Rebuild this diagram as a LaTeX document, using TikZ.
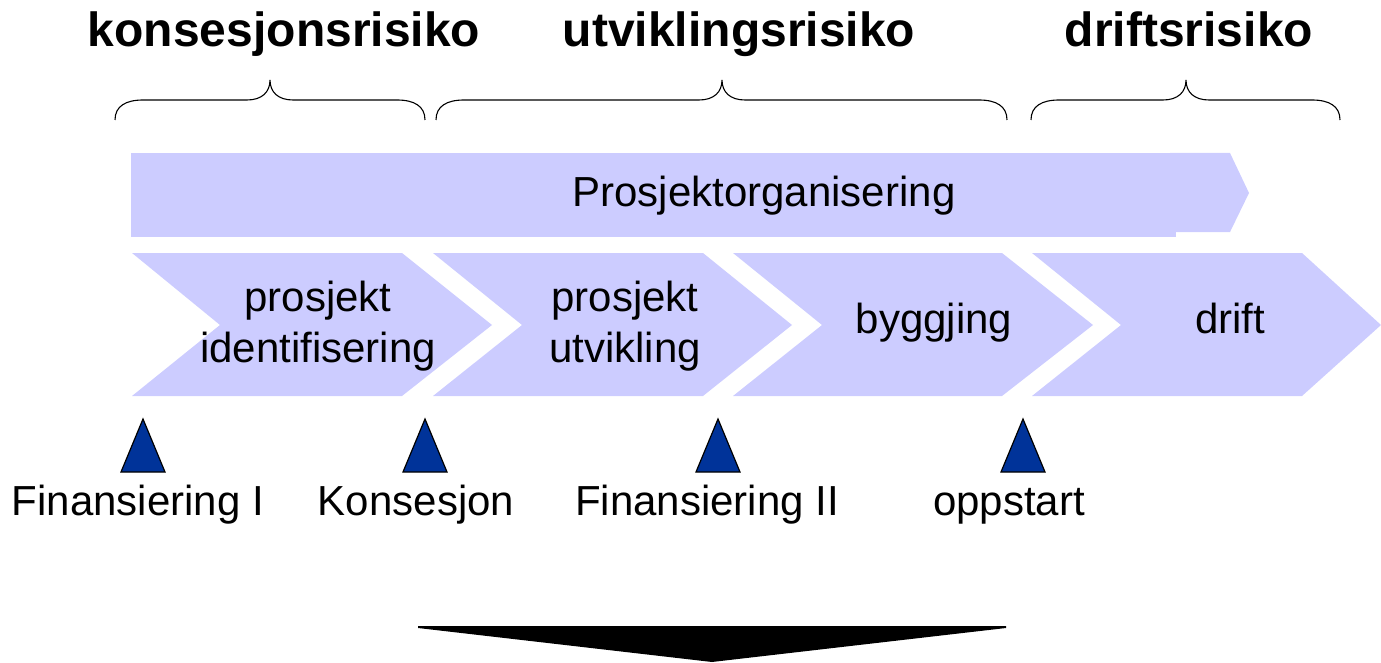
\documentclass[tikz,border=0pt]{standalone}
\usepackage{fontspec}
\setmainfont{Liberation Sans}
\definecolor{chevfill}{HTML}{CCCCFF}
\definecolor{trifill}{HTML}{003399}
\begin{document}
\begin{tikzpicture}[x=1pt,y=-1pt,
  lbl/.style={font=\fontsize{42}{51}\selectfont, inner sep=0pt, anchor=base, align=center},
  ttl/.style={font=\fontsize{48}{56}\selectfont\bfseries, inner sep=0pt, anchor=base},
  chev/.style={fill=chevfill, draw=none},
  bracket/.style={draw=black, line width=1.1pt},
  milestone/.style={fill=trifill, draw=black, line width=1.2pt, line join=miter}]
\useasboundingbox (0,0) rectangle (1381,663);

% titles
\node[ttl] (t1) at (284,47) {konsesjonsrisiko};
\node[ttl] (t2) at (739,47) {utviklingsrisiko};
\node[ttl] (t3) at (1189,47) {driftsrisiko};

% braces
\draw[bracket] (115,120) .. controls (115,106) and (126,100) .. (143,100) -- (247,100)
  .. controls (262,100) and (270,92) .. (270,80)
  .. controls (270,92) and (278,100) .. (293,100) -- (397,100)
  .. controls (414,100) and (425,106) .. (425,120);
\draw[bracket] (436,120) .. controls (436,106) and (447,100) .. (464,100) -- (699,100)
  .. controls (714,100) and (722,92) .. (722,80)
  .. controls (722,92) and (730,100) .. (745,100) -- (979,100)
  .. controls (996,100) and (1007,106) .. (1007,120);
\draw[bracket] (1031,120) .. controls (1031,106) and (1042,100) .. (1059,100) -- (1163,100)
  .. controls (1178,100) and (1186,92) .. (1186,80)
  .. controls (1186,92) and (1194,100) .. (1209,100) -- (1312,100)
  .. controls (1329,100) and (1340,106) .. (1340,120);

% top arrow
\fill[chevfill] (131,153) rectangle (1176,237);
\fill[chevfill] (1170,153) -- (1230,153) -- (1249,193) -- (1230,232) -- (1170,232) -- cycle;
\node[lbl] (po) at (764,207) {Prosjektorganisering};

% chevrons
\fill[chev] (132,253) -- (402,253) -- (492,325) -- (402,396) -- (132,396) -- (220,325) -- cycle;
\fill[chev] (433,253) -- (703,253) -- (792,325) -- (703,396) -- (433,396) -- (522,325) -- cycle;
\fill[chev] (733,253) -- (1002,253) -- (1093,325) -- (1002,396) -- (733,396) -- (822,325) -- cycle;
\fill[chev] (1032,253) -- (1302,253) -- (1381,325) -- (1302,396) -- (1032,396) -- (1121,325) -- cycle;

\node[lbl] (c1) at (318,362) {prosjekt\\identifisering};
\node[lbl] (c2) at (625,362) {prosjekt\\utvikling};
\node[lbl] (c3) at (934,333) {byggjing};
\node[lbl] (c4) at (1230,333) {drift};

% milestones
\draw[milestone] (143,419) -- (165,472) -- (121,472) -- cycle;
\draw[milestone] (425,419) -- (447,472) -- (403,472) -- cycle;
\draw[milestone] (718,419) -- (740,472) -- (696,472) -- cycle;
\draw[milestone] (1023,419) -- (1045,472) -- (1001,472) -- cycle;

\node[lbl] (m1) at (138,515) {Finansiering I};
\node[lbl] (m2) at (416,515) {Konsesjon};
\node[lbl] (m3) at (707,515) {Finansiering II};
\node[lbl] (m4) at (1009,515) {oppstart};

% bottom arrow
\fill[black] (418,626) -- (1006,626) -- (1006,628) -- (712,662) -- (418,628) -- cycle;
\end{tikzpicture}
\end{document}
